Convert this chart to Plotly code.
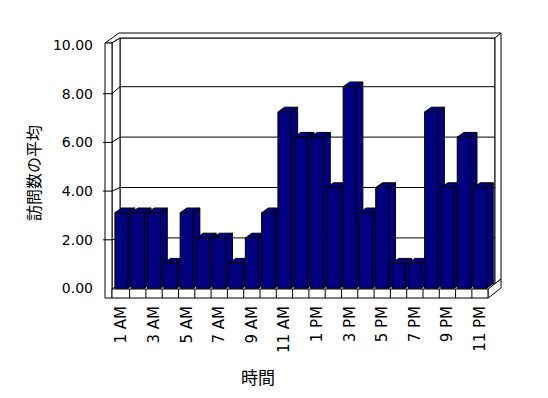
import plotly.graph_objects as go

# ---------------- data ----------------
hours = ["1 AM", "2 AM", "3 AM", "4 AM", "5 AM", "6 AM", "7 AM", "8 AM", "9 AM", "10 AM",
         "11 AM", "12 PM", "1 PM", "2 PM", "3 PM", "4 PM", "5 PM", "6 PM", "7 PM", "8 PM",
         "9 PM", "10 PM", "11 PM"]
avg_visits = [3, 3, 3, 1, 3, 2, 2, 1, 2, 3, 7, 6, 6, 4, 8, 3, 4, 1, 1, 7, 4, 6, 4]
y_tick_values = [0, 2, 4, 6, 8, 10]
x_title = "時間"
y_title = "訪問数の平均"

# ---------------- geometry / style ----------------
OFF = 8                      # default page margin of the html body
W, H = 548 - OFF, 398 - OFF
SL, ST, PW, PH = 100, 28, 405, 274   # plot area in page pixels
ML, MT = SL - OFF, ST - OFF
MR, MB = W - ML - PW, H - MT - PH
PX0, PXS = 113.3, 16.3      # page pixel of category -0.5, pixels per category
PY0, PYS = 288.3, 25.2      # page pixel of value 0 (bars), pixels per unit
LY0, LYS = 288.5, 24.35     # label axis (front of left wall)
NAVY = "#000080"
FONT = "DejaVu Sans, sans-serif"
CJK = "Noto Sans CJK JP"


def X(px):
    return (px - PX0) / PXS - 0.5


def YL(py):
    return (LY0 - py) / LYS


xr = [X(SL), X(SL + PW)]
yr_bar = [(PY0 - (ST + PH)) / PYS, (PY0 - ST) / PYS]
yr_label = [YL(ST + PH), YL(ST)]

fig = go.Figure()


def frame_poly(pts, fill="white"):
    xs = [X(p[0]) for p in pts] + [X(pts[0][0])]
    ys = [YL(p[1]) for p in pts] + [YL(pts[0][1])]
    fig.add_trace(go.Scatter(x=xs, y=ys, mode="lines", fill="toself", fillcolor=fill,
                             line=dict(color="black", width=1), hoverinfo="skip",
                             showlegend=False, xaxis="x", yaxis="y"))


def frame_lines(segs):
    xs, ys = [], []
    for seg in segs:
        for p in seg:
            xs.append(X(p[0]))
            ys.append(YL(p[1]))
        xs.append(None)
        ys.append(None)
    fig.add_trace(go.Scatter(x=xs, y=ys, mode="lines", line=dict(color="black", width=1),
                             hoverinfo="skip", showlegend=False, xaxis="x", yaxis="y"))


# back wall
BW_L, BW_R, BW_T, BW_B = 120, 495, 38, 284
frame_poly([(BW_L, BW_T), (BW_R, BW_T), (BW_R, BW_B), (BW_L, BW_B)])
# back wall gridlines (level of the bar values)
frame_lines([[(BW_L, PY0 - PYS * v), (BW_R, PY0 - PYS * v)] for v in y_tick_values[1:-1]])
# top band, right side of back wall
frame_poly([(105, 43), (112, 43), (BW_L, BW_T), (BW_R, BW_T), (501, 33), (119, 33)])
frame_poly([(BW_R, BW_T), (501, 33), (501, 279), (BW_R, BW_B)])
# left wall inner face and front face
frame_poly([(112, 43), (BW_L, BW_T), (BW_L, BW_B), (112, 289)])
frame_poly([(105, 43), (112, 43), (112, 298), (105, 298)])
# floor front face and right face
FL_R = PX0 + PXS * len(hours)
frame_poly([(112, 289), (FL_R, 289), (FL_R, 298), (112, 298)])
frame_poly([(FL_R, 289), (BW_R, BW_B), (501, 279), (501, 288), (FL_R, 298)])
# floor category separators
frame_lines([[(PX0 + PXS * k, 289), (PX0 + PXS * k, 298)] for k in range(1, len(hours))])
# left wall tick marks + diagonals to the back wall gridlines
frame_lines([[(103, LY0 - LYS * v), (112, LY0 - LYS * v), (BW_L, PY0 - PYS * v)]
             for v in y_tick_values[1:-1]])

# ---------------- bar depth faces (side + top) ----------------
BW = 0.8
DX, DY = 6.7 / PXS, 4.7 / PYS
for i, v in enumerate(avg_visits):
    xl, xrr = i - BW / 2, i + BW / 2
    xs = [xrr, xrr + DX, xrr + DX, xrr, xrr, None,
          xl, xl + DX, xrr + DX, xrr, xl]
    ys = [0, DY, v + DY, v, 0, None,
          v, v + DY, v + DY, v, v]
    fig.add_trace(go.Scatter(x=xs, y=ys, mode="lines", fill="toself", fillcolor=NAVY,
                             line=dict(color="black", width=1), hoverinfo="skip",
                             showlegend=False, xaxis="x", yaxis="y2"))

# ---------------- bars (front faces) ----------------
fig.add_trace(go.Bar(x=list(range(len(hours))), y=avg_visits, width=BW,
                     marker=dict(color=NAVY, line=dict(color="black", width=1)),
                     showlegend=False, xaxis="x", yaxis="y3",
                     hovertext=hours, hoverinfo="text+y"))

hidden = dict(showgrid=False, zeroline=False, showline=False, showticklabels=False,
              ticks="", automargin=False)
fig.update_layout(
    width=W, height=H,
    margin=dict(l=ML, r=MR, t=MT, b=MB, pad=0, autoexpand=False),
    paper_bgcolor="white", plot_bgcolor="white",
    showlegend=False,
    xaxis=dict(range=xr, showgrid=False, zeroline=False, showline=False,
               automargin=False,
               tickmode="array", tickvals=list(range(0, len(hours), 2)),
               ticktext=hours[::2], tickangle=-90, ticks="",
               tickfont=dict(family=FONT, size=15, color="black")),
    yaxis=dict(range=yr_label, showgrid=False, zeroline=False, showline=False,
               automargin=False, ticks="",
               tickmode="array", tickvals=y_tick_values, tickformat=".2f",
               ticklabelstandoff=6,
               tickfont=dict(family=FONT, size=14, color="black")),
    yaxis2=dict(range=yr_bar, overlaying="y", **hidden),
    yaxis3=dict(range=yr_bar, overlaying="y", **hidden),
    annotations=[
        dict(text=y_title, xref="paper", yref="paper",
             x=(33 - SL) / PW, y=(ST + PH - 173) / PH, textangle=-90,
             showarrow=False, xanchor="center", yanchor="middle",
             font=dict(family=CJK, size=16, color="black")),
        dict(text=x_title, xref="paper", yref="paper",
             x=(258 - SL) / PW, y=(ST + PH - 376) / PH,
             showarrow=False, xanchor="center", yanchor="middle",
             font=dict(family=CJK, size=17, color="black")),
    ],
)

fig.write_html("out.html")
